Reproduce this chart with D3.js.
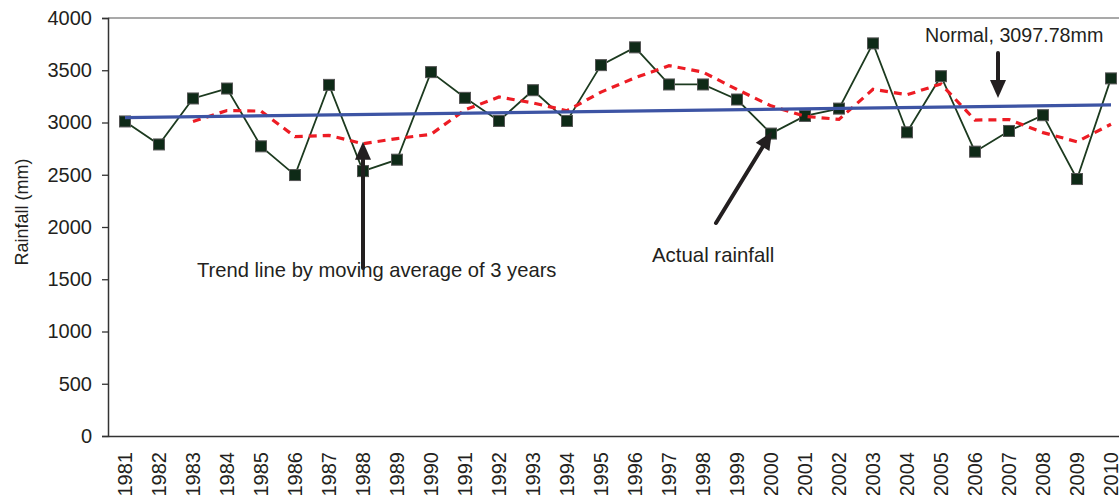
<!DOCTYPE html>
<html>
<head>
<meta charset="utf-8">
<script src="https://cdn.jsdelivr.net/npm/d3@7/dist/d3.min.js"></script>
<style>
  html, body { margin: 0; padding: 0; background: #fff; }
  svg { display: block; font-family: "Liberation Sans", Arial, sans-serif; }
</style>
</head>
<body>
<svg id="chart" width="1119" height="495"></svg>
<script>
// Annual rainfall, 1981–2010 (mm)
const years = d3.range(1981, 2011).map(String);
const rainfall = [
  3010, 2790, 3230, 3325, 2772, 2497, 3360, 2535, 2644, 3482,
  3236, 3015, 3309, 3015, 3549, 3719, 3364, 3364, 3220, 2894,
  3063, 3133, 3757, 2906, 3443, 2721, 2919, 3070, 2459, 3422
];
const yTicks = [0, 500, 1000, 1500, 2000, 2500, 3000, 3500, 4000];
const maPeriod = 3;
const normalLabel = "Normal, 3097.78mm";

const plotLeft = 108, plotTop = 18, plotBottom = 436, plotRight = 1128;
const ink = "#231f20";

const svg = d3.select("#chart");

const x = d3.scaleBand().domain(years).range([plotLeft, plotRight]).padding(0);
const cx = yr => x(yr) + x.bandwidth() / 2;
const y = d3.scaleLinear().domain([0, 4000]).range([plotBottom, plotTop]);

const pts = years.map((yr, i) => ({ yr, v: rainfall[i], i }));

// 3-year moving average (trailing window, first value at the 3rd year)
const ma = pts.slice(maPeriod - 1).map(p => ({
  yr: p.yr,
  v: d3.mean(rainfall.slice(p.i - maPeriod + 1, p.i + 1))
}));

// least-squares linear trend
const xm = d3.mean(pts, p => p.i), vm = d3.mean(rainfall);
const slope = d3.sum(pts, p => (p.i - xm) * (p.v - vm)) / d3.sum(pts, p => (p.i - xm) ** 2);
const trend = [pts[0], pts[pts.length - 1]].map(p => ({ yr: p.yr, v: vm + slope * (p.i - xm) }));

// frame: top border
svg.append("line")
  .attr("x1", plotLeft).attr("x2", plotRight).attr("y1", plotTop).attr("y2", plotTop)
  .attr("stroke", "#8c8c8c").attr("stroke-width", 1.5);

// y axis
const yAxis = svg.append("g")
  .attr("transform", `translate(${plotLeft},0)`)
  .call(d3.axisLeft(y).tickValues(yTicks).tickSize(6).tickPadding(10).tickFormat(d3.format("d")));
yAxis.attr("font-family", null).attr("font-size", null);
yAxis.select(".domain").attr("stroke", "#333").attr("stroke-width", 1.5);
yAxis.selectAll(".tick line").attr("stroke", "#333").attr("stroke-width", 1.3);
yAxis.selectAll(".tick text").attr("fill", ink).style("font-size", "20px");

// x axis
const xAxis = svg.append("g")
  .attr("transform", `translate(0,${plotBottom})`)
  .call(d3.axisBottom(x).tickSize(0));
xAxis.attr("font-family", null).attr("font-size", null);
xAxis.select(".domain").attr("stroke", "#333").attr("stroke-width", 1.5);
xAxis.selectAll(".tick text")
  .attr("fill", ink).style("font-size", "20px")
  .attr("transform", "rotate(-90)")
  .attr("text-anchor", "end")
  .attr("x", -16).attr("y", 0).attr("dy", "0.36em");

// y axis title
svg.append("text")
  .attr("transform", "translate(28,212) rotate(-90)")
  .attr("text-anchor", "middle")
  .attr("fill", ink).style("font-size", "18px")
  .text("Rainfall (mm)");

// actual rainfall series
const line = d3.line().x(d => cx(d.yr)).y(d => y(d.v));
svg.append("path").datum(pts)
  .attr("d", line)
  .attr("fill", "none").attr("stroke", "#1c3a1f").attr("stroke-width", 1.8);

const ms = 11;
svg.append("g").selectAll("rect").data(pts).join("rect")
  .attr("x", d => cx(d.yr) - ms / 2).attr("y", d => y(d.v) - ms / 2)
  .attr("width", ms).attr("height", ms)
  .attr("fill", "#0e2a17").attr("stroke", "#555").attr("stroke-width", 1);

// moving-average trend line
svg.append("path").datum(ma)
  .attr("d", line)
  .attr("fill", "none").attr("stroke", "#ed1c24").attr("stroke-width", 3.2)
  .attr("stroke-dasharray", "8,6");

// linear trend line
svg.append("path").datum(trend)
  .attr("d", line)
  .attr("fill", "none").attr("stroke", "#3d54a4").attr("stroke-width", 3.2);

// annotation arrows
function arrow(x1, y1, x2, y2) {
  const ang = Math.atan2(y2 - y1, x2 - x1);
  const hl = 18, hw = 8;
  const bx = x2 - hl * Math.cos(ang), by = y2 - hl * Math.sin(ang);
  const g = svg.append("g");
  g.append("line")
    .attr("x1", x1).attr("y1", y1).attr("x2", bx).attr("y2", by)
    .attr("stroke", ink).attr("stroke-width", 4).attr("stroke-linecap", "round");
  const px = -Math.sin(ang) * hw, py = Math.cos(ang) * hw;
  g.append("path")
    .attr("d", `M${x2},${y2}L${bx + px},${by + py}L${bx - px},${by - py}Z`)
    .attr("fill", ink);
}

const ma1988 = ma.find(d => d.yr === "1988");
arrow(cx("1988"), 268, cx("1988"), y(ma1988.v) - 2);

const p2000 = pts.find(d => d.yr === "2000");
arrow(716, 223, cx("2000") + 1, y(p2000.v) - 2);

arrow(998, 53, 998, 98);

// annotation texts
svg.append("text").attr("x", 197).attr("y", 277)
  .attr("fill", ink).style("font-size", "20.2px")
  .text("Trend line by moving average of 3 years");
svg.append("text").attr("x", 652).attr("y", 262)
  .attr("fill", ink).style("font-size", "20.4px")
  .text("Actual rainfall");
svg.append("text").attr("x", 925).attr("y", 42)
  .attr("fill", ink).style("font-size", "19.7px")
  .text(normalLabel);
</script>
</body>
</html>
